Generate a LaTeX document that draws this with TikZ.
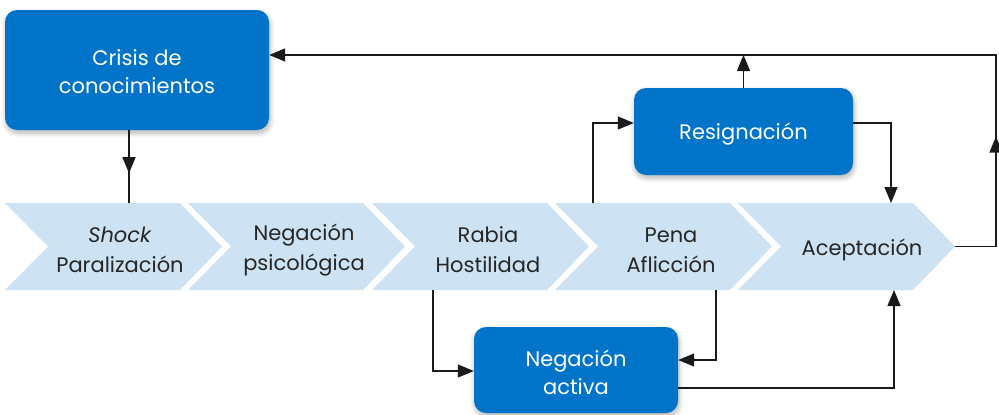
\documentclass[tikz,border=0pt]{standalone}
\usepackage{fontspec}
\setmainfont{Poppins}
\usetikzlibrary{arrows.meta,shadows.blur,calc}
\definecolor{boxblue}{HTML}{0074C8}
\definecolor{chevblue}{HTML}{CDE3F3}
\definecolor{linecol}{HTML}{1A1A1A}
\begin{document}
\begin{tikzpicture}[x=1pt,y=-1pt,
  bluebox/.style={fill=boxblue, rounded corners=12pt, inner sep=0pt,
    blur shadow={shadow blur steps=8, shadow xshift=1pt, shadow yshift=-3pt, shadow blur radius=5pt, shadow opacity=30}},
  boxtext/.style={text=white, align=center, font=\fontsize{21}{28}\selectfont, inner sep=0pt},
  chevtext/.style={text=black!85, align=center, font=\fontsize{21}{30}\selectfont, inner sep=0pt},
  chevron/.style={fill=chevblue},
  conn/.style={draw=linecol, line width=1.3pt},
  tri/.style={-{Triangle[length=16pt,width=13pt]}}]
\useasboundingbox (0,0) rectangle (999,415);
% chevrons
\foreach \s/\n in {5/1,188/2,372/3,555/4,738/5}{
  \path[chevron] (\s,203) -- ++(175,0) -- ++(42,43.5) -- ++(-42,43.5) -- ++(-175,0) -- ++(43,-43.5) -- cycle;
}
\node[chevtext] (ch1) at (120,250) {\textit{Shock}\\Paralización};
\node[chevtext] (ch2) at (304,250) {Negación\\psicológica};
\node[chevtext] (ch3) at (488,250) {Rabia\\Hostilidad};
\node[chevtext] (ch4) at (671,250) {Pena\\Aflicción};
\node[chevtext] (ch5) at (862,250) {Aceptación};
% boxes
\node[bluebox, minimum width=264pt, minimum height=120pt] (crisis) at (137,70) {};
\node[bluebox, minimum width=219pt, minimum height=87pt] (resig) at (743.5,131.5) {};
\node[bluebox, minimum width=204pt, minimum height=86pt] (negact) at (576,370) {};
\node[boxtext] (crisistxt) at ($(crisis.center)+(0,2)$) {Crisis de\\conocimientos};
\node[boxtext] (resigtxt) at ($(resig.center)+(0,3)$) {Resignación};
\node[boxtext] (negacttxt) at ($(negact.center)+(0,2)$) {Negación\\activa};
% attach points
\coordinate (c1top) at (129,203);
\coordinate (c4top) at (593,203);
\coordinate (c5top) at (891,203);
\coordinate (c3bot) at (433,290);
\coordinate (c4bot) at (716,290);
\coordinate (c5bot) at (894,290);
\coordinate (c5tip) at (955,246.5);
\coordinate (topline) at (996,55);
% connectors
\draw[conn] (crisis.south -| c1top) -- (c1top);
\draw[conn,tri] (crisis.south -| c1top) -- ++(0,43);
\draw[conn,tri] (c5tip) -| (topline) -- (topline -| crisis.east);
\draw[conn,tri] (c5tip) -| ++(41,-110);
\draw[conn,tri] (resig.north) -- (resig.north |- topline);
\draw[conn,tri] (c4top) |- ($(resig.west)+(0,-8.5)$);
\draw[conn,tri] ($(resig.east)+(0,-8.5)$) -| (c5top);
\draw[conn,tri] (c3bot) |- ($(negact.west)+(0,1)$);
\draw[conn,tri] (c4bot) |- ($(negact.east)+(0,-10)$);
\draw[conn,tri] ($(negact.east)+(0,18)$) -| (c5bot);
\end{tikzpicture}
\end{document}
